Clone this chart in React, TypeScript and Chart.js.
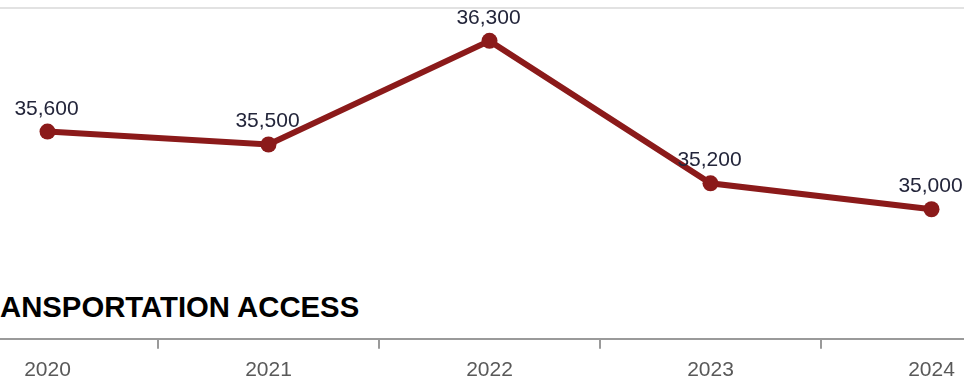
import React, { useEffect, useRef } from "react";
import { Chart, registerables } from "chart.js";

Chart.register(...registerables);

const years = ["2020", "2021", "2022", "2023", "2024"];
const values = [35600, 35500, 36300, 35200, 35000];
const titleText = "ANSPORTATION ACCESS";

const lineColor = "#8b1a1a";
const FONT = "'Liberation Sans', Arial, Helvetica, sans-serif";

const valueLabels = {
  id: "valueLabels",
  afterDatasetsDraw(chart: any) {
    const ctx = chart.ctx;
    const meta = chart.getDatasetMeta(0);
    ctx.save();
    ctx.font = `21px ${FONT}`;
    ctx.fillStyle = "#23253a";
    ctx.textAlign = "center";
    ctx.textBaseline = "alphabetic";
    meta.data.forEach((pt: any, i: number) => {
      const v = chart.data.datasets[0].data[i] as number;
      ctx.fillText(v.toLocaleString("en-US"), pt.x - 1, pt.y - 17);
    });
    ctx.restore();
  },
};

export default function App() {
  const ref = useRef<HTMLCanvasElement | null>(null);

  useEffect(() => {
    if (!ref.current) return;
    const chart = new Chart(ref.current, {
      type: "line",
      data: {
        labels: years,
        datasets: [
          {
            data: values,
            borderColor: lineColor,
            backgroundColor: lineColor,
            borderWidth: 6,
            pointRadius: 8,
            pointHoverRadius: 8,
            pointBackgroundColor: lineColor,
            pointBorderColor: lineColor,
            pointBorderWidth: 0,
            tension: 0,
            fill: false,
            clip: false,
          },
        ],
      },
      options: {
        animation: false,
        responsive: false,
        maintainAspectRatio: false,
        layout: { autoPadding: false, padding: { top: 2, left: 0, right: 0, bottom: 0 } },
        plugins: {
          legend: { display: false },
          tooltip: { enabled: false },
          title: { display: false },
        },
        scales: {
          x: {
            type: "category",
            offset: true,
            grid: {
              offset: true,
              drawOnChartArea: false,
              drawTicks: true,
              tickLength: 10,
              color: "#9a9a9a",
              lineWidth: 2,
            },
            border: { display: true, color: "#9a9a9a", width: 2 },
            ticks: {
              padding: 9,
              color: "#595959",
              font: { family: FONT, size: 21 },
              maxRotation: 0,
              autoSkip: false,
            },
          },
          y: {
            display: false,
            min: 34000,
            max: 36600,
          },
        },
      },
      plugins: [valueLabels],
    });
    return () => chart.destroy();
  }, []);

  return (
    <div
      style={{
        position: "fixed",
        left: 0,
        top: 0,
        width: 964,
        height: 380,
        overflow: "hidden",
        background: "#fff",
      }}
    >
      <div
        style={{
          position: "absolute",
          left: 0,
          top: 7,
          width: 964,
          height: 2,
          background: "#e2e2e2",
        }}
      />
      <div
        style={{
          position: "absolute",
          left: 0,
          top: 289,
          whiteSpace: "nowrap",
          fontFamily: FONT,
          fontWeight: 700,
          fontSize: 29.3,
          lineHeight: "36px",
          color: "#000",
        }}
      >
        {titleText}
      </div>
      <div
        style={{
          position: "absolute",
          left: -63.5,
          top: 0,
          width: 1105,
          height: 392,
        }}
      >
        <canvas ref={ref} width={1105} height={392} style={{ display: "block" }} />
      </div>
    </div>
  );
}
